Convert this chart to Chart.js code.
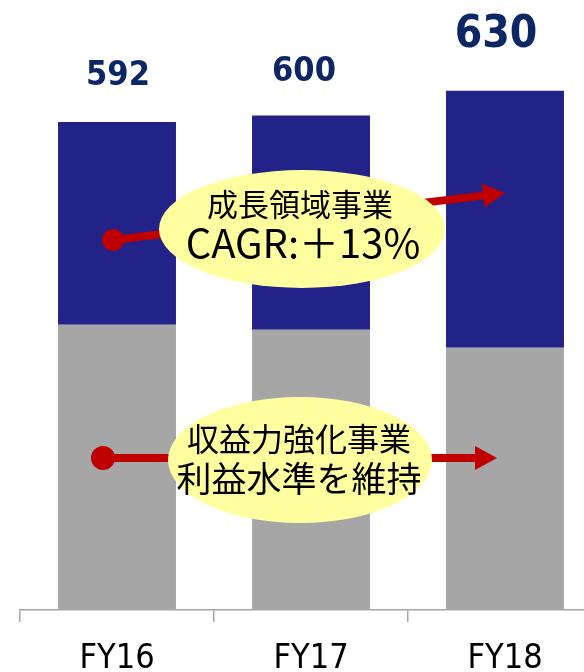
<!DOCTYPE html>
<html><head><meta charset="utf-8">
<script src="https://cdn.jsdelivr.net/npm/chart.js@4/dist/chart.umd.min.js"></script>
<style>
html,body{margin:0;padding:0;background:#fff;overflow:hidden;width:584px;height:672px}
#wrap{position:absolute;left:0;top:0;width:602px;height:672px}
</style></head>
<body><div id="wrap"><canvas id="c"></canvas></div>
<script>
// ---- data ----
const categories = ['FY16', 'FY17', 'FY18'];
const profitBusiness = [346, 340, 318];   // 収益力強化事業 (gray)
const growthBusiness = [246, 260, 312];   // 成長領域事業 (navy)
const totals = [592, 600, 630];
const totalLabels = ['592', '600', '630'];

const NAVY_TXT = '#0c2764';
const CJK = "'Noto Sans CJK JP', 'Noto Sans', sans-serif";

const valueLabelPlugin = {
  id: 'valueLabels',
  afterDatasetsDraw(chart) {
    const {ctx, scales: {x, y}} = chart;
    const sizes = [34, 34, 44];
    const lift = [37, 34, 44];
    const dx = [1, -7, -9];
    ctx.save();
    ctx.fillStyle = NAVY_TXT;
    ctx.textAlign = 'center';
    ctx.textBaseline = 'alphabetic';
    totals.forEach((v, i) => {
      ctx.font = `bold ${sizes[i]}px 'DejaVu Sans Condensed', 'DejaVu Sans', sans-serif`;
      ctx.fillText(totalLabels[i], x.getPixelForValue(i) + dx[i], y.getPixelForValue(v) - lift[i]);
    });
    ctx.restore();
  }
};

function arrow(ctx, x1, y1, x2, y2, r) {
  const ang = Math.atan2(y2 - y1, x2 - x1);
  const hl = 22, hw = 12;
  const bx = x2 - hl * Math.cos(ang), by = y2 - hl * Math.sin(ang);
  ctx.strokeStyle = '#c00000';
  ctx.fillStyle = '#c00000';
  ctx.lineWidth = 8;
  ctx.beginPath(); ctx.moveTo(x1, y1); ctx.lineTo(bx, by); ctx.stroke();
  ctx.beginPath(); ctx.arc(x1, y1, r, 0, Math.PI * 2); ctx.fill();
  ctx.beginPath();
  ctx.moveTo(x2, y2);
  ctx.lineTo(bx + hw * Math.sin(ang), by - hw * Math.cos(ang));
  ctx.lineTo(bx - hw * Math.sin(ang), by + hw * Math.cos(ang));
  ctx.closePath(); ctx.fill();
}

const annotationPlugin = {
  id: 'notes',
  afterDatasetsDraw(chart) {
    const ctx = chart.ctx;
    ctx.save();
    arrow(ctx, 113, 240, 505, 193, 11);
    arrow(ctx, 103, 458, 497, 458, 12);
    ctx.fillStyle = '#ffffa0';
    ctx.beginPath(); ctx.ellipse(302, 229, 143, 59, 0, 0, Math.PI * 2); ctx.fill();
    ctx.beginPath(); ctx.ellipse(300, 460, 132, 63, 0, 0, Math.PI * 2); ctx.fill();
    ctx.fillStyle = '#000';
    ctx.textAlign = 'center';
    ctx.textBaseline = 'middle';
    ctx.font = `31px ${CJK}`;
    ctx.fillText('成長領域事業', 300, 204);
    ctx.font = `40px ${CJK}`;
    ctx.fillText('CAGR:＋13%', 303, 243);
    ctx.font = `32px ${CJK}`;
    ctx.fillText('収益力強化事業', 299, 439);
    ctx.font = `35px ${CJK}`;
    ctx.fillText('利益水準を維持', 299, 479);
    ctx.restore();
  }
};

new Chart(document.getElementById('c'), {
  type: 'bar',
  data: {
    labels: categories,
    datasets: [
      {label: '収益力強化事業', data: profitBusiness, backgroundColor: '#a6a6a6', borderWidth: 0},
      {label: '成長領域事業', data: growthBusiness, backgroundColor: '#222288', borderWidth: 0}
    ]
  },
  options: {
    responsive: true,
    maintainAspectRatio: false,
    animation: false,
    devicePixelRatio: 1,
    layout: {padding: {left: 20, right: 0, top: 0, bottom: 0}},
    plugins: {legend: {display: false}, tooltip: {enabled: false}},
    datasets: {bar: {barPercentage: 0.608, categoryPercentage: 1}},
    scales: {
      x: {
        stacked: true,
        grid: {display: true, drawOnChartArea: false, drawTicks: true, tickLength: 12, color: '#a6a6a6', lineWidth: 1.5},
        border: {display: true, color: '#a6a6a6', width: 1.5},
        ticks: {color: '#000', padding: 17, font: {family: "'DejaVu Sans Condensed', 'DejaVu Sans', sans-serif", size: 34}},
        afterFit(scale) { scale.height = 62; }
      },
      y: {stacked: true, display: false, min: 0, max: 740}
    }
  },
  plugins: [valueLabelPlugin, annotationPlugin]
});
</script>
</body></html>
